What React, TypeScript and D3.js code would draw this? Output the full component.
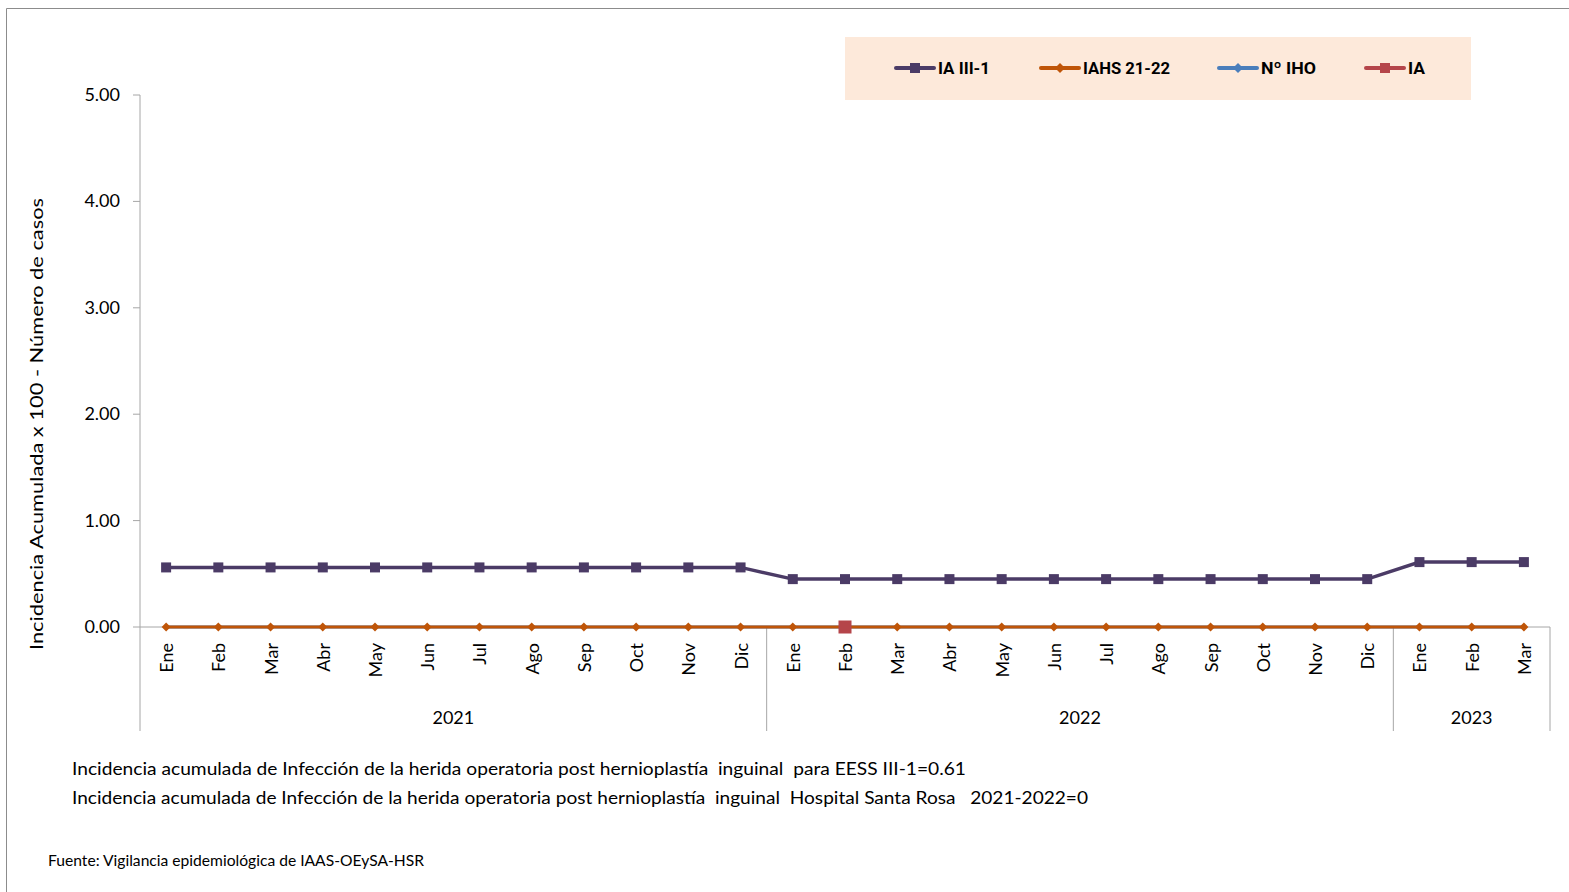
import React from "react";
import * as d3 from "d3";

const months = ["Ene","Feb","Mar","Abr","May","Jun","Jul","Ago","Sep","Oct","Nov","Dic","Ene","Feb","Mar","Abr","May","Jun","Jul","Ago","Sep","Oct","Nov","Dic","Ene","Feb","Mar"];
const years = [
  { label: "2021", start: 0, end: 12 },
  { label: "2022", start: 12, end: 24 },
  { label: "2023", start: 24, end: 27 },
];
const iaIII1 = [0.56,0.56,0.56,0.56,0.56,0.56,0.56,0.56,0.56,0.56,0.56,0.56,0.45,0.45,0.45,0.45,0.45,0.45,0.45,0.45,0.45,0.45,0.45,0.45,0.61,0.61,0.61];
const iahs = [0,0,0,0,0,0,0,0,0,0,0,0,0,0,0,0,0,0,0,0,0,0,0,0,0,0,0];
const nIho: (number | null)[] = [0,0,0,0,0,0,0,0,0,0,0,0,0,0,0,0,0,0,0,0,0,0,0,0,0,0,0];
const ia: (number | null)[] = [null,null,null,null,null,null,null,null,null,null,null,null,null,0,null,null,null,null,null,null,null,null,null,null,null,null,null];
const yTicks = [0,1,2,3,4,5];
const legendItems = [
  { label: "IA III-1", color: "#4B3B66", marker: "square", x: 896, w: 52 },
  { label: "IAHS 21-22", color: "#BF5508", marker: "diamond", x: 1041, w: 87 },
  { label: "Nº IHO", color: "#4A7EBB", marker: "diamond", x: 1219, w: 55 },
  { label: "IA", color: "#B5454A", marker: "square", x: 1366, w: 17 },
];
const notes = [
  "Incidencia acumulada de Infección de la herida operatoria post hernioplastía  inguinal  para EESS III-1=0.61",
  "Incidencia acumulada de Infección de la herida operatoria post hernioplastía  inguinal  Hospital Santa Rosa   2021-2022=0",
];
const source = "Fuente: Vigilancia epidemiológica de IAAS-OEySA-HSR";

const FONT = "Lato, 'Open Sans', sans-serif";

export default function App() {
  const x0 = 140, x1 = 1550, yTop = 95, yBot = 627;
  const x = d3.scaleBand<number>().domain(d3.range(months.length)).range([x0, x1]);
  const cx = (i: number) => (x(i) as number) + x.bandwidth() / 2;
  const y = d3.scaleLinear().domain([0, 5]).range([yBot, yTop]);
  const line = d3.line<number | null>()
    .defined((d) => d !== null)
    .x((_, i) => cx(i))
    .y((d) => y(d as number));

  const square = (px: number, py: number, s: number, color: string, key: any) => (
    <rect key={key} x={px - s / 2} y={py - s / 2} width={s} height={s} fill={color} />
  );
  const diamond = (px: number, py: number, s: number, color: string, key: any) => (
    <path key={key} d={`M${px},${py - s / 2}L${px + s / 2},${py}L${px},${py + s / 2}L${px - s / 2},${py}Z`} fill={color} />
  );

  return (
    <svg width={1569} height={892} style={{ display: "block", position: "absolute", left: 0, top: 0 }}>
      <rect x={0} y={0} width={1569} height={892} fill="#fff" />
      {/* frame */}
      <path d="M6.5,892V8.5H1569" stroke="#8c8c8c" strokeWidth={1} fill="none" />
      {/* legend */}
      <rect x={845} y={37} width={626} height={63} fill="#FDE9DA" />
      {legendItems.map((l, i) => (
        <g key={i}>
          <line x1={l.x} x2={l.x + 38} y1={68} y2={68} stroke={l.color} strokeWidth={4} strokeLinecap="round" />
          {l.marker === "square" ? square(l.x + 19, 68, 10, l.color, "m") : diamond(l.x + 19, 68, 10, l.color, "m")}
          <text x={l.x + 42} y={74} fontFamily="Roboto, sans-serif" fontWeight={700} fontSize={17} fill="#000" textLength={l.w} lengthAdjust="spacingAndGlyphs">{l.label}</text>
        </g>
      ))}
      {/* y axis */}
      <line x1={x0} x2={x0} y1={yTop} y2={yBot} stroke="#a6a6a6" />
      {yTicks.map((t) => (
        <g key={t}>
          <line x1={x0 - 7} x2={x0} y1={y(t)} y2={y(t)} stroke="#a6a6a6" />
          <text x={x0 - 20} y={y(t) + 6} textAnchor="end" fontFamily={FONT} fontSize={18} fill="#000">{t.toFixed(2)}</text>
        </g>
      ))}
      <text transform={`translate(43,424) rotate(-90)`} textAnchor="middle" fontFamily={FONT} fontSize={18} fill="#000" textLength={452} lengthAdjust="spacingAndGlyphs">Incidencia Acumulada  x 100 - Número de casos</text>
      {/* x axis */}
      <line x1={x0} x2={x1} y1={yBot} y2={yBot} stroke="#a6a6a6" />
      {years.map((yr, i) => (
        <g key={i}>
          <line x1={x(yr.start) as number} x2={x(yr.start) as number} y1={yBot} y2={731} stroke="#a6a6a6" />
          {i === years.length - 1 && <line x1={x1} x2={x1} y1={yBot} y2={731} stroke="#a6a6a6" />}
          <text x={((x(yr.start) as number) + (yr.end < months.length ? (x(yr.end) as number) : x1)) / 2} y={724} textAnchor="middle" fontFamily={FONT} fontSize={18} fill="#000">{yr.label}</text>
        </g>
      ))}
      {months.map((m, i) => (
        <text key={i} transform={`translate(${cx(i) + 7},643) rotate(-90)`} textAnchor="end" fontFamily={FONT} fontSize={18} fill="#000">{m}</text>
      ))}
      {/* series */}
      <path d={line(nIho) || ""} fill="none" stroke="#4A7EBB" strokeWidth={3} />
      <path d={line(iahs) || ""} fill="none" stroke="#BF5508" strokeWidth={3} />
      {iahs.map((v, i) => diamond(cx(i), y(v), 9, "#BF5508", "d" + i))}
      <path d={line(iaIII1) || ""} fill="none" stroke="#4B3B66" strokeWidth={3.5} />
      {iaIII1.map((v, i) => square(cx(i), y(v), 10, "#4B3B66", "s" + i))}
      {ia.map((v, i) => (v === null ? null : square(cx(i), y(v), 13, "#B5454A", "r" + i)))}
      {/* notes */}
      {notes.map((n, i) => (
        <text key={i} x={72} y={775 + i * 29} fontFamily={FONT} fontSize={18} fill="#000" style={{ whiteSpace: "pre" }} textLength={i === 0 ? 894 : 1016} lengthAdjust="spacingAndGlyphs">{n}</text>
      ))}
      <text x={48} y={866} fontFamily={FONT} fontSize={15} fill="#000" textLength={376} lengthAdjust="spacingAndGlyphs">{source}</text>
    </svg>
  );
}
